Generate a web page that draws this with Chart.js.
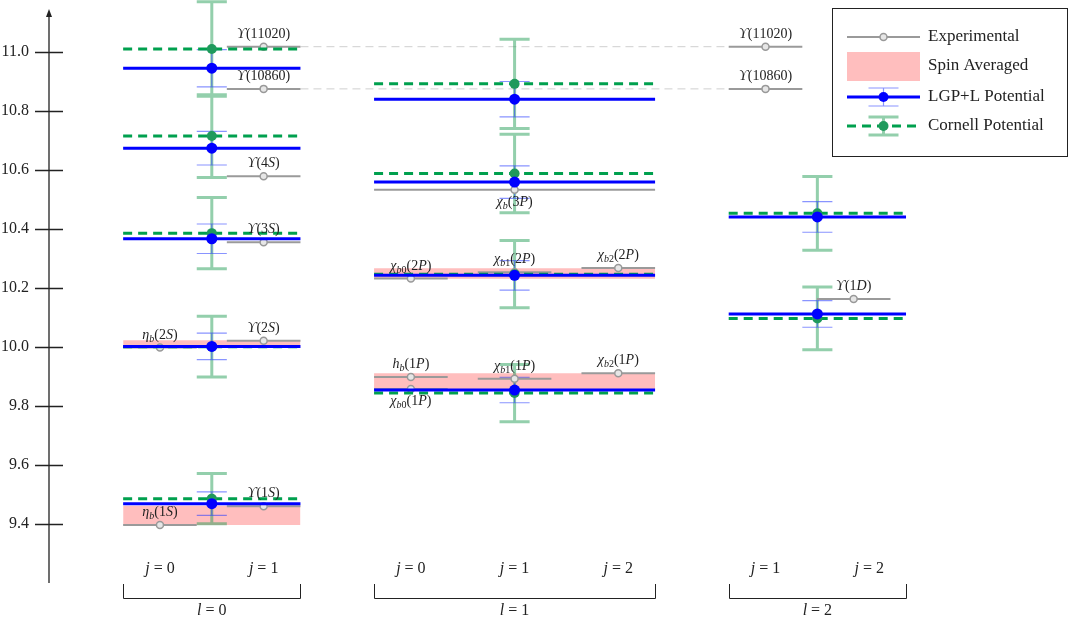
<!DOCTYPE html>
<html>
<head>
<meta charset="utf-8">
<script src="https://cdn.jsdelivr.net/npm/chart.js@4.4.0/dist/chart.umd.min.js"></script>
<style>
  html, body { margin: 0; padding: 0; background: #fff; }
  #wrap { width: 1069px; height: 617px; }
</style>
</head>
<body>
<div id="wrap"><canvas id="spectrum"></canvas></div>
<script>
// ---- data ----
const groupLabels = ["l = 0", "l = 1", "l = 2"];
const groupJ = [[0, 1], [0, 1, 2], [1, 2]];
const yTicks = [9.4, 9.6, 9.8, 10.0, 10.2, 10.4, 10.6, 10.8, 11.0];

// theory predictions, one entry per multiplet
const thGroup = [0, 0, 0, 0, 0, 1, 1, 1, 1, 2, 2];
const lgpMass = [9.469, 10.002, 10.367, 10.674, 10.945, 9.854, 10.243, 10.559, 10.840, 10.112, 10.441];
const lgpErr = [0.040, 0.045, 0.050, 0.057, 0.063, 0.043, 0.050, 0.055, 0.060, 0.045, 0.052];
const cornellMass = [9.486, 10.001, 10.386, 10.715, 11.010, 9.844, 10.247, 10.588, 10.892, 10.097, 10.453];
const cornellErr = [0.085, 0.103, 0.121, 0.140, 0.160, 0.097, 0.114, 0.133, 0.151, 0.106, 0.125];

// spin averaged bands
const spinGroup = [0, 0, 1, 1];
const spinLow = [9.397, 9.998, 9.857, 10.231];
const spinHigh = [9.462, 10.023, 9.911, 10.267];

// experimental states (slot -1 = spans the whole multiplet)
const expNames = ["η_b(1S)", "ϒ(1S)", "η_b(2S)", "ϒ(2S)", "ϒ(3S)", "ϒ(4S)", "ϒ(10860)", "ϒ(11020)",
  "h_b(1P)", "χ_b0(1P)", "χ_b1(1P)", "χ_b2(1P)", "χ_b0(2P)", "χ_b1(2P)", "χ_b2(2P)", "χ_b(3P)",
  "ϒ(1D)", "ϒ(10860)", "ϒ(11020)"];
const expGroup = [0, 0, 0, 0, 0, 0, 0, 0, 1, 1, 1, 1, 1, 1, 1, 1, 2, 2, 2];
const expSlot = [0, 1, 0, 1, 1, 1, 1, 1, 0, 0, 1, 2, 0, 1, 2, -1, 0.85, 0, 0];
const expMass = [9.397, 9.460, 9.998, 10.021, 10.355, 10.579, 10.875, 11.018,
  9.898, 9.858, 9.892, 9.911, 10.232, 10.253, 10.268, 10.533,
  10.163, 10.875, 11.018];
const labelBelow = ["χ_b0(1P)", "χ_b(3P)"];

// ---- geometry in x units ----
const GROUP_GAP = 1.42;
const HALF_SLOT = 0.355;
const CAP = 0.145;
const groupStart = [];
groupJ.forEach((js, g) => {
  groupStart.push(g === 0 ? 0 : groupStart[g - 1] + groupJ[g - 1].length - 1 + GROUP_GAP);
});
const groupSpan = g => [groupStart[g] - HALF_SLOT, groupStart[g] + groupJ[g].length - 1 + HALF_SLOT];
const groupCenter = g => { const s = groupSpan(g); return (s[0] + s[1]) / 2; };
const expSpan = i => {
  if (expSlot[i] < 0) return groupSpan(expGroup[i]);
  const c = groupStart[expGroup[i]] + expSlot[i];
  return [c - HALF_SLOT, c + HALF_SLOT];
};

const SERIF = '"Liberation Serif", "DejaVu Serif", "Times New Roman", serif';
const GAP = v => ({ x: v, y: null });

function levelLine(groups, masses) {
  const pts = [];
  masses.forEach((m, i) => {
    const [a, b] = groupSpan(groups[i]);
    const c = groupCenter(groups[i]);
    pts.push({ x: a, y: m }, { x: c, y: m, mark: true }, { x: b, y: m }, GAP(b));
  });
  return pts;
}
function errorBars(groups, masses, errs) {
  const pts = [];
  masses.forEach((m, i) => {
    const c = groupCenter(groups[i]);
    const lo = m - errs[i], hi = m + errs[i];
    pts.push({ x: c, y: lo }, { x: c, y: hi }, GAP(c));
    pts.push({ x: c - CAP, y: lo }, { x: c + CAP, y: lo }, GAP(c));
    pts.push({ x: c - CAP, y: hi }, { x: c + CAP, y: hi }, GAP(c));
  });
  return pts;
}
const expPts = [];
expMass.forEach((m, i) => {
  const [a, b] = expSpan(i);
  expPts.push({ x: a, y: m }, { x: (a + b) / 2, y: m, mark: true }, { x: b, y: m }, GAP(b));
});
const linkPts = [];
expNames.forEach((n, i) => {
  const k = expNames.indexOf(n);
  if (k !== i && expGroup[k] !== expGroup[i]) {
    linkPts.push({ x: expSpan(k)[1], y: expMass[k] }, { x: expSpan(i)[0], y: expMass[i] }, GAP(expSpan(i)[0]));
  }
});

const markRadius = r => ctx => (ctx.raw && ctx.raw.mark ? r : 0);
const base = { clip: false, pointHoverRadius: 0, spanGaps: false, tension: 0 };

const datasets = [];
spinLow.forEach((lo, i) => {
  const [a, b] = groupSpan(spinGroup[i]);
  datasets.push({ ...base, data: [{ x: a, y: spinHigh[i] }, { x: b, y: spinHigh[i] }],
    fill: { value: lo }, backgroundColor: "#ffbebe", borderWidth: 0, pointRadius: 0, order: 10 });
});
datasets.push({ ...base, data: linkPts, borderColor: "#cfcfcf", borderWidth: 1, borderDash: [8, 5], pointRadius: 0, order: 9 });
datasets.push({ ...base, data: errorBars(thGroup, cornellMass, cornellErr),
  borderColor: "rgba(40,160,90,0.5)", borderWidth: 3, pointRadius: 0, order: 8 });
datasets.push({ ...base, data: errorBars(thGroup, lgpMass, lgpErr),
  borderColor: "rgba(40,60,255,0.55)", borderWidth: 1.2, pointRadius: 0, order: 7 });
datasets.push({ ...base, data: expPts, borderColor: "#9a9a9a", borderWidth: 2,
  pointRadius: markRadius(3.5), pointBackgroundColor: "#e6e6e6", pointBorderColor: "#999", pointBorderWidth: 1.5, order: 6 });
datasets.push({ ...base, data: levelLine(thGroup, cornellMass), borderColor: "#00a04e", borderWidth: 3, borderDash: [9, 6],
  pointRadius: markRadius(5), pointBackgroundColor: "#1f9a5c", pointBorderWidth: 0, order: 5 });
datasets.push({ ...base, data: levelLine(thGroup, lgpMass), borderColor: "#0000ff", borderWidth: 3,
  pointRadius: markRadius(5.5), pointBackgroundColor: "#0000ff", pointBorderWidth: 0, order: 4 });

// ---- mixed italic / subscript text ----
function drawRich(ctx, str, x, y, size, baseline) {
  const parts = [];
  let sub = false;
  for (const ch of str) {
    if (ch === "_") { sub = true; continue; }
    if (ch === "(") sub = false;
    parts.push({ ch, sub, italic: /[A-Za-z\u0370-\u03ff]/.test(ch) });
  }
  const fontOf = p => `${p.italic ? "italic " : ""}${p.sub ? Math.round(size * 0.72) : size}px ${SERIF}`;
  let w = 0;
  parts.forEach(p => { ctx.font = fontOf(p); p.w = ctx.measureText(p.ch).width; w += p.w; });
  let cx = x - w / 2;
  ctx.textAlign = "left";
  ctx.textBaseline = baseline || "alphabetic";
  parts.forEach(p => {
    ctx.font = fontOf(p);
    ctx.fillText(p.ch, cx, y + (p.sub ? size * 0.22 : 0));
    cx += p.w;
  });
}

const decor = {
  id: "decor",
  afterDatasetsDraw(chart) {
    const { ctx, scales: { x, y } } = chart;
    ctx.save();
    ctx.fillStyle = "#222";
    expNames.forEach((name, i) => {
      const [a, b] = expSpan(i);
      const px = x.getPixelForValue((a + b) / 2);
      const py = y.getPixelForValue(expMass[i]);
      const below = labelBelow.includes(name);
      drawRich(ctx, name, px, below ? py + 16 : py - 9, 14);
    });
    ctx.restore();
  },
  afterDraw(chart) {
    const { ctx, chartArea: ca, scales: { x, y } } = chart;
    ctx.save();
    // y axis with arrow and crossing ticks
    ctx.strokeStyle = "#222";
    ctx.fillStyle = "#222";
    ctx.lineWidth = 1.3;
    ctx.beginPath();
    ctx.moveTo(ca.left, ca.top + 4);
    ctx.lineTo(ca.left, ca.bottom);
    yTicks.forEach(v => {
      const py = Math.round(y.getPixelForValue(v)) + 0.5;
      ctx.moveTo(ca.left - 14, py);
      ctx.lineTo(ca.left + 14, py);
    });
    ctx.stroke();
    ctx.beginPath();
    ctx.moveTo(ca.left, ca.top - 3);
    ctx.lineTo(ca.left - 3, ca.top + 5);
    ctx.lineTo(ca.left + 3, ca.top + 5);
    ctx.closePath();
    ctx.fill();

    // j labels, braces and l labels
    ctx.lineWidth = 1;
    groupJ.forEach((js, g) => {
      js.forEach((j, s) => {
        drawRich(ctx, "j = " + j, x.getPixelForValue(groupStart[g] + s), ca.bottom - 14, 16, "middle");
      });
      const [a, b] = groupSpan(g).map(v => Math.round(x.getPixelForValue(v)) + 0.5);
      ctx.beginPath();
      ctx.moveTo(a, ca.bottom + 1);
      ctx.lineTo(a, ca.bottom + 15.5);
      ctx.lineTo(b, ca.bottom + 15.5);
      ctx.lineTo(b, ca.bottom + 1);
      ctx.stroke();
      drawRich(ctx, groupLabels[g], x.getPixelForValue(groupCenter(g)), ca.bottom + 28, 16, "middle");
    });

    // legend
    const L = { x: 832.5, y: 8.5, w: 235, h: 148 };
    ctx.fillStyle = "#fff";
    ctx.fillRect(L.x, L.y, L.w, L.h);
    ctx.strokeStyle = "#222";
    ctx.strokeRect(L.x, L.y, L.w, L.h);
    const sx0 = 847, sx1 = 920, sc = 883.5, tx = 928;
    const rows = [37, 66, 97, 126];
    // experimental
    ctx.strokeStyle = "#9a9a9a"; ctx.lineWidth = 2;
    ctx.beginPath(); ctx.moveTo(sx0, rows[0]); ctx.lineTo(sx1, rows[0]); ctx.stroke();
    ctx.beginPath(); ctx.arc(sc, rows[0], 3.5, 0, Math.PI * 2);
    ctx.fillStyle = "#e6e6e6"; ctx.fill(); ctx.lineWidth = 1.5; ctx.strokeStyle = "#999"; ctx.stroke();
    // spin averaged
    ctx.fillStyle = "#ffbebe";
    ctx.fillRect(sx0, 52, sx1 - sx0, 29);
    // LGP+L
    ctx.strokeStyle = "rgba(40,60,255,0.55)"; ctx.lineWidth = 1.2;
    ctx.beginPath();
    ctx.moveTo(sc, rows[2] - 9); ctx.lineTo(sc, rows[2] + 9);
    ctx.moveTo(sc - 15, rows[2] - 9); ctx.lineTo(sc + 15, rows[2] - 9);
    ctx.moveTo(sc - 15, rows[2] + 9); ctx.lineTo(sc + 15, rows[2] + 9);
    ctx.stroke();
    ctx.strokeStyle = "#0000ff"; ctx.lineWidth = 3;
    ctx.beginPath(); ctx.moveTo(sx0, rows[2]); ctx.lineTo(sx1, rows[2]); ctx.stroke();
    ctx.fillStyle = "#0000ff";
    ctx.beginPath(); ctx.arc(sc, rows[2], 5, 0, Math.PI * 2); ctx.fill();
    // Cornell
    ctx.strokeStyle = "rgba(40,160,90,0.5)"; ctx.lineWidth = 3;
    ctx.beginPath();
    ctx.moveTo(sc, rows[3] - 9); ctx.lineTo(sc, rows[3] + 9);
    ctx.moveTo(sc - 15, rows[3] - 9); ctx.lineTo(sc + 15, rows[3] - 9);
    ctx.moveTo(sc - 15, rows[3] + 9); ctx.lineTo(sc + 15, rows[3] + 9);
    ctx.stroke();
    ctx.strokeStyle = "#00a04e"; ctx.setLineDash([9, 6]);
    ctx.beginPath(); ctx.moveTo(sx0, rows[3]); ctx.lineTo(sx1, rows[3]); ctx.stroke();
    ctx.setLineDash([]);
    ctx.fillStyle = "#1f9a5c";
    ctx.beginPath(); ctx.arc(sc, rows[3], 5, 0, Math.PI * 2); ctx.fill();
    // legend text
    ctx.fillStyle = "#222";
    ctx.font = `17px ${SERIF}`;
    ctx.textAlign = "left";
    ctx.textBaseline = "middle";
    ["Experimental", "Spin Averaged", "LGP+L Potential", "Cornell Potential"].forEach((t, i) => {
      ctx.fillText(t, tx, rows[i]);
    });
    ctx.restore();
  }
};

new Chart(document.getElementById("spectrum"), {
  type: "line",
  data: { datasets },
  options: {
    responsive: true,
    maintainAspectRatio: false,
    animation: false,
    events: [],
    layout: { padding: { left: 0, right: 9, top: 12, bottom: 34 } },
    plugins: { legend: { display: false }, tooltip: { enabled: false } },
    scales: {
      x: { type: "linear", min: -1.07, max: 8.68, display: false },
      y: {
        type: "linear",
        min: 9.2,
        max: 11.1356,
        afterFit: s => { s.width = 49; s.paddingTop = 0; s.paddingBottom = 0; },
        afterBuildTicks: s => { s.ticks = yTicks.map(v => ({ value: v })); },
        grid: { display: false, drawTicks: false },
        border: { display: false },
        ticks: {
          padding: 20,
          color: "#222",
          font: { family: SERIF, size: 16 },
          callback: v => v.toFixed(1)
        }
      }
    }
  },
  plugins: [decor]
});
</script>
</body>
</html>
